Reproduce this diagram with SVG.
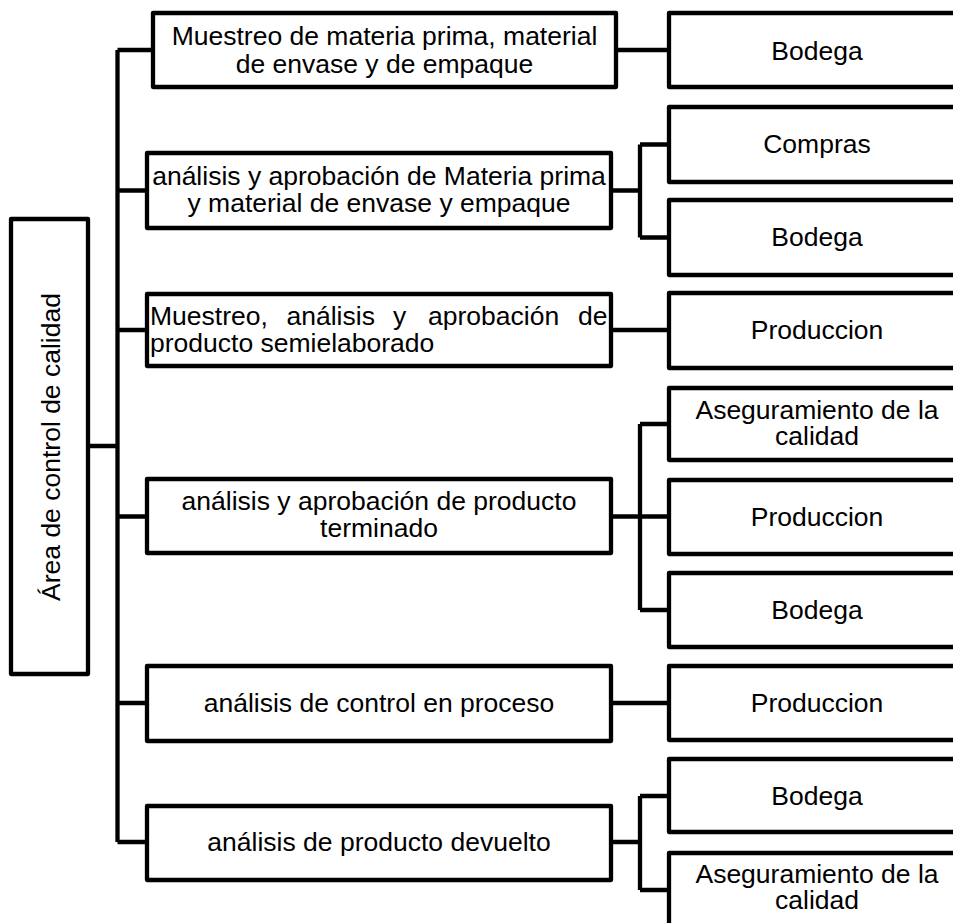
<svg xmlns="http://www.w3.org/2000/svg" width="953" height="923" viewBox="0 0 953 923">
<style>
.box{fill:#fff;stroke:#000;stroke-width:4.3;stroke-linejoin:round}
.ln{fill:none;stroke:#000;stroke-width:4.3;stroke-linejoin:round;stroke-linecap:butt}
text{font-family:"Liberation Sans",Arial,Helvetica,sans-serif;font-size:26.5px;fill:#000}
.c{text-anchor:middle}
</style>
<rect width="953" height="923" fill="#fff"/>
<g id="connectors">
<path class="ln" d="M88,446 H117.5 M117.5,50 V842 M117.5,50 H153 M117.5,190.5 H147 M117.5,330 H147 M117.5,516.5 H147 M117.5,703 H147 M117.5,842 H147"/>
<path class="ln" d="M616,50 H669"/>
<path class="ln" d="M611,190.5 H640 M640,144.5 V237.5 M640,144.5 H669 M640,237.5 H669"/>
<path class="ln" d="M611,330 H669"/>
<path class="ln" d="M611,516.5 H669 M640,424 V610 M640,424 H669 M640,610 H669"/>
<path class="ln" d="M611,703 H669"/>
<path class="ln" d="M611,842 H640 M640,796 V890 M640,796 H669 M640,890 H669"/>
</g>
<g id="root">
<rect class="box" x="11" y="219" width="77" height="455"/>
<text class="c" transform="translate(60,447) rotate(-90)">Área de control de calidad</text>
</g>
<g id="n1">
<rect class="box" x="153" y="13" width="463" height="74"/>
<text class="c"><tspan x="384.5" y="45">Muestreo de materia prima, material</tspan><tspan x="384.5" y="72.5">de envase y de empaque</tspan></text>
</g>
<g id="n2">
<rect class="box" x="147" y="153" width="464" height="75"/>
<text class="c"><tspan x="379" y="185">análisis y aprobación de Materia prima</tspan><tspan x="379" y="211.5">y material de envase y empaque</tspan></text>
</g>
<g id="n3">
<rect class="box" x="147" y="294" width="464" height="72"/>
<text><tspan x="150" y="325">Muestreo,</tspan><tspan x="286.5" y="325">análisis</tspan><tspan x="393" y="325">y</tspan><tspan x="428" y="325">aprobación</tspan><tspan x="578" y="325">de</tspan><tspan x="150" y="351.5">producto semielaborado</tspan></text>
</g>
<g id="n4">
<rect class="box" x="147" y="479" width="464" height="74"/>
<text class="c"><tspan x="379" y="509.5">análisis y aprobación de producto</tspan><tspan x="379" y="536.5">terminado</tspan></text>
</g>
<g id="n5">
<rect class="box" x="147" y="666" width="464" height="75"/>
<text class="c" x="379" y="712">análisis de control en proceso</text>
</g>
<g id="n6">
<rect class="box" x="147" y="806" width="464" height="74"/>
<text class="c" x="379" y="851">análisis de producto devuelto</text>
</g>
<g id="l3-bodega1">
<rect class="box" x="669" y="13" width="296" height="74"/>
<text class="c" x="817" y="60">Bodega</text>
</g>
<g id="l3-compras">
<rect class="box" x="669" y="107" width="296" height="75"/>
<text class="c" x="817" y="153">Compras</text>
</g>
<g id="l3-bodega2">
<rect class="box" x="669" y="200" width="296" height="75"/>
<text class="c" x="817" y="246">Bodega</text>
</g>
<g id="l3-produccion1">
<rect class="box" x="669" y="293" width="296" height="75"/>
<text class="c" x="817" y="338.5">Produccion</text>
</g>
<g id="l3-aseg1">
<rect class="box" x="669" y="388" width="296" height="72"/>
<text class="c"><tspan x="817" y="419.3">Aseguramiento de la</tspan><tspan x="817" y="445">calidad</tspan></text>
</g>
<g id="l3-produccion2">
<rect class="box" x="669" y="480" width="296" height="74"/>
<text class="c" x="817" y="525.5">Produccion</text>
</g>
<g id="l3-bodega3">
<rect class="box" x="669" y="573" width="296" height="74"/>
<text class="c" x="817" y="619">Bodega</text>
</g>
<g id="l3-produccion3">
<rect class="box" x="669" y="666" width="296" height="74"/>
<text class="c" x="817" y="711.5">Produccion</text>
</g>
<g id="l3-bodega4">
<rect class="box" x="669" y="759" width="296" height="73"/>
<text class="c" x="817" y="805">Bodega</text>
</g>
<g id="l3-aseg2">
<rect class="box" x="669" y="853" width="296" height="74"/>
<text class="c"><tspan x="817" y="883.3">Aseguramiento de la</tspan><tspan x="817" y="909.3">calidad</tspan></text>
</g>
</svg>
